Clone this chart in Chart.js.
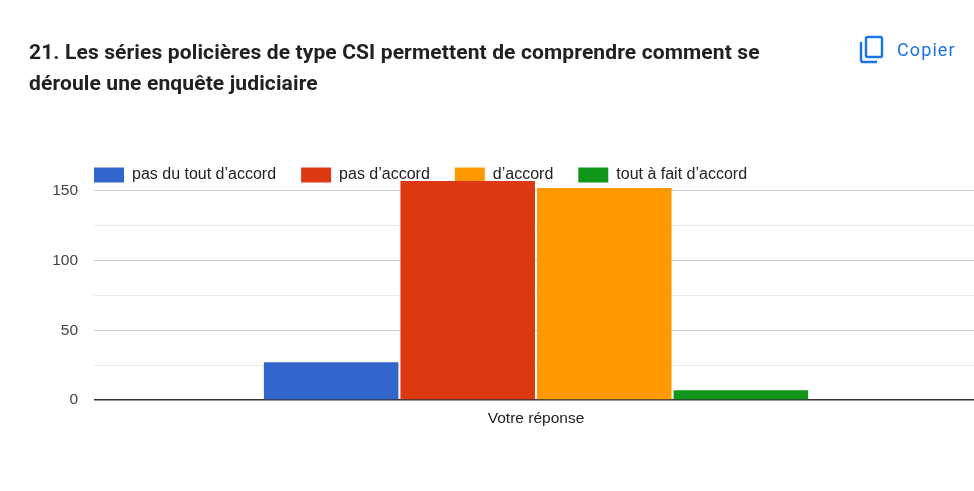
<!DOCTYPE html>
<html lang="fr">
<head>
<meta charset="utf-8">
<title>Question 21</title>
<script src="https://cdn.jsdelivr.net/npm/chart.js@4"></script>
<style>
    body { margin: 0; background: #fff; width: 974px; height: 491px; overflow: hidden; position: relative; }
    canvas { position: absolute; left: 0; top: 0; }
    .title { position: absolute; left: 29px; top: 37px; white-space: nowrap; font: 700 21px/31px Roboto, sans-serif; letter-spacing: 0.13px; color: #212121; }
    .copy { position: absolute; left: 858px; top: 35px; display: flex; align-items: center; color: #1a73e8; font: 400 18px Roboto, sans-serif; letter-spacing: 1.1px; }
    .copy svg { margin-right: 12px; }
</style>
</head>
<body>
<canvas id="chart" width="978" height="491"></canvas>
<div class="title">21. Les séries policières de type CSI permettent de comprendre comment se<br>déroule une enquête judiciaire</div>
<div class="copy">
    <svg width="27" height="29" viewBox="0 0 27 29" fill="none" stroke="#1a73e8" stroke-width="2.4">
        <rect x="8" y="2" width="16" height="20" rx="1.5"></rect>
        <path d="M3 7v18a2 2 0 0 0 2 2h14"></path>
    </svg>
    <span>Copier</span>
</div>
<script>
const categories = ['Votre réponse'];
const seriesNames = ['pas du tout d’accord', 'pas d’accord', 'd’accord', 'tout à fait d’accord'];
const seriesValues = [[27], [157], [152], [7]];
const seriesColors = ['#3366cc', '#dc3912', '#ff9900', '#109618'];

document.addEventListener('DOMContentLoaded', function() {
    // Legend overlaps the top of the plot, flush with its left edge
    const legendOffset = {
        id: 'legendOffset',
        afterLayout: function(chart) {
            const legend = chart.legend;
            legend.left = chart.chartArea.left - 25;
            legend.top = chart.chartArea.top;
            legend.bottom = legend.top + 70;
        }
    };

    new Chart(document.getElementById('chart'), {
        type: 'bar',
        plugins: [legendOffset],
        data: {
            labels: categories,
            datasets: seriesNames.map((name, i) => ({
                label: name,
                data: seriesValues[i],
                backgroundColor: seriesColors[i],
                barPercentage: 0.985,
                categoryPercentage: 0.618
            }))
        },
        options: {
            responsive: false,
            animation: false,
            layout: { padding: { top: 91 } },
            plugins: {
                tooltip: { enabled: false },
                legend: {
                    position: 'top',
                    align: 'start',
                    labels: {
                        boxWidth: 30,
                        boxHeight: 15,
                        padding: 25,
                        color: '#222222',
                        font: { family: 'Liberation Sans', size: 16 }
                    }
                }
            },
            scales: {
                x: {
                    afterFit: function(scale) { scale.height = 91; },
                    grid: { display: false },
                    border: { display: false },
                    ticks: { color: '#222222', padding: 1, font: { family: 'Liberation Sans', size: 15.5 } }
                },
                y: {
                    min: 0,
                    max: 185,
                    afterFit: function(scale) { scale.width = 94; },
                    border: { display: false },
                    grid: {
                        drawTicks: false,
                        color: function(context) {
                            if (context.tick.value === 0) return '#333333';
                            if (context.tick.value > 150) return 'transparent';
                            return context.tick.value % 50 === 0 ? '#cccccc' : '#ebebeb';
                        },
                        lineWidth: function(context) { return context.tick.value === 0 ? 1.5 : 1; }
                    },
                    ticks: {
                        stepSize: 25,
                        includeBounds: false,
                        padding: 16,
                        color: '#444444',
                        font: { family: 'Liberation Sans', size: 15.5 },
                        callback: function(value) { return value % 50 === 0 ? value : ''; }
                    }
                }
            }
        }
    });
});
</script>
</body>
</html>
